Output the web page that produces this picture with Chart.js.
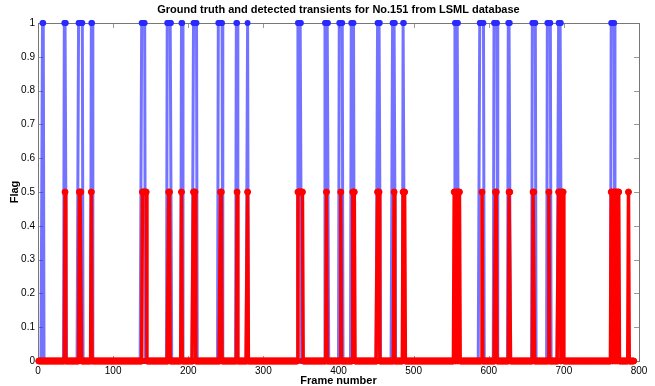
<!DOCTYPE html>
<html>
<head>
<meta charset="utf-8">
<script src="https://cdn.jsdelivr.net/npm/chart.js@4/dist/chart.umd.min.js"></script>
<style>
  body { margin: 0; background: #fff; }
</style>
</head>
<body>
<canvas id="flagChart" width="655" height="386"></canvas>
<script>
// last frame of the sequence
const frameCount = 793;

// ground truth transients (flag = 1), runs of frames [start, end]
const gtRuns = [
    [6, 7], [35, 37], [54, 59], [71, 72], [138, 142], [172, 177], [191, 192],
    [207, 211], [240, 245], [264, 265], [279, 279], [346, 350], [382, 386],
    [401, 405], [417, 420], [452, 455], [472, 475], [486, 487], [555, 559],
    [588, 593], [607, 611], [626, 628], [658, 662], [678, 682], [693, 696],
    [763, 767]
];

// detected transients (flag = 0.5), runs of frames [start, end]
const detRuns = [
    [36, 36], [55, 57], [71, 71], [139, 144], [174, 175], [191, 191],
    [207, 209], [243, 244], [265, 265], [279, 279], [346, 352], [384, 384],
    [403, 403], [419, 421], [452, 454], [474, 474], [486, 488], [554, 555],
    [557, 558], [560, 561], [591, 591], [609, 610], [627, 628], [659, 660],
    [680, 680], [693, 695], [697, 699], [763, 764], [766, 767], [769, 770],
    [772, 773], [786, 786]
];

const xTicks = [0, 100, 200, 300, 400, 500, 600, 700, 800];
const yTicks = [0, 0.1, 0.2, 0.3, 0.4, 0.5, 0.6, 0.7, 0.8, 0.9, 1];
const yTickLabels = ['0', '0.1', '0.2', '0.3', '0.4', '0.5', '0.6', '0.7', '0.8', '0.9', '1'];

const frames = [];
for (let f = 1; f <= frameCount; f++) frames.push(f);

function flagSeries(runs, level) {
    return frames.map(f => ({
        x: f,
        y: runs.some(r => f >= r[0] && f <= r[1]) ? level : 0
    }));
}

const boxPlugin = {
    id: 'matlabBox',
    beforeDatasetsDraw(chart) {
        const ctx = chart.ctx;
        const a = chart.chartArea;
        const xs = chart.scales.x, ys = chart.scales.y;
        ctx.save();
        ctx.strokeStyle = '#999';
        ctx.lineWidth = 1;
        ctx.beginPath();
        xTicks.forEach(v => {
            const px = Math.round(xs.getPixelForValue(v)) + 0.5;
            ctx.moveTo(px, a.bottom); ctx.lineTo(px, a.bottom - 5);
            ctx.moveTo(px, a.top); ctx.lineTo(px, a.top + 5);
        });
        yTicks.forEach(v => {
            const py = Math.round(ys.getPixelForValue(v)) + 0.5;
            ctx.moveTo(a.left, py); ctx.lineTo(a.left + 5, py);
            ctx.moveTo(a.right, py); ctx.lineTo(a.right - 5, py);
        });
        ctx.stroke();
        ctx.strokeStyle = '#777';
        ctx.strokeRect(Math.round(a.left) + 0.5, Math.round(a.top) + 0.5,
            Math.round(a.right - a.left), Math.round(a.bottom - a.top));
        ctx.restore();
    }
};

const tickFont = { family: '"Liberation Sans", Arial, sans-serif', size: 10 };
const boldFont = { family: '"Liberation Sans", Arial, sans-serif', size: 11, weight: 'bold' };

new Chart(document.getElementById('flagChart').getContext('2d'), {
    type: 'line',
    data: {
        datasets: [
            {
                label: 'Detected',
                data: flagSeries(detRuns, 0.5),
                borderColor: '#ff0000',
                borderWidth: 3.5,
                pointRadius: 3,
                pointBorderWidth: 1,
                pointBackgroundColor: '#ff0000',
                pointBorderColor: '#ff0000',
                clip: false,
                order: 1
            },
            {
                label: 'Ground truth',
                data: flagSeries(gtRuns, 1),
                borderColor: 'rgba(40, 40, 255, 0.65)',
                borderWidth: 3,
                pointRadius: 2.2,
                pointBorderWidth: 1.5,
                pointBackgroundColor: '#2a2aff',
                pointBorderColor: '#2a2aff',
                clip: false,
                order: 2
            }
        ]
    },
    options: {
        responsive: false,
        animation: false,
        layout: { padding: { top: 0, right: 16, left: 0, bottom: 0 } },
        plugins: {
            legend: { display: false },
            tooltip: { enabled: false },
            title: {
                display: true,
                fullSize: false,
                text: 'Ground truth and detected transients for No.151 from LSML database',
                font: boldFont,
                color: '#000',
                padding: { top: 3, bottom: 6.8 }
            }
        },
        scales: {
            x: {
                type: 'linear',
                min: 0,
                max: 800,
                afterBuildTicks: s => { s.ticks = xTicks.map(v => ({ value: v })); },
                afterFit: s => { s.height = 25; },
                grid: { display: false, drawTicks: false },
                border: { display: false },
                ticks: { font: tickFont, color: '#000', padding: 4, maxRotation: 0, autoSkip: false },
                title: {
                    display: true, text: 'Frame number', color: '#000', padding: 0,
                    font: Object.assign({}, boldFont, { lineHeight: 1 })
                }
            },
            y: {
                type: 'linear',
                min: 0,
                max: 1,
                afterBuildTicks: s => { s.ticks = yTicks.map(v => ({ value: v })); },
                afterFit: s => { s.width = 38; },
                grid: { display: false, drawTicks: false },
                border: { display: false },
                ticks: {
                    font: tickFont, color: '#000', padding: 3, autoSkip: false,
                    callback: (v, i) => yTickLabels[i]
                },
                title: { display: true, text: 'Flag', font: boldFont, color: '#000', padding: { top: 8, bottom: 0 } }
            }
        }
    },
    plugins: [boxPlugin]
});
</script>
</body>
</html>
